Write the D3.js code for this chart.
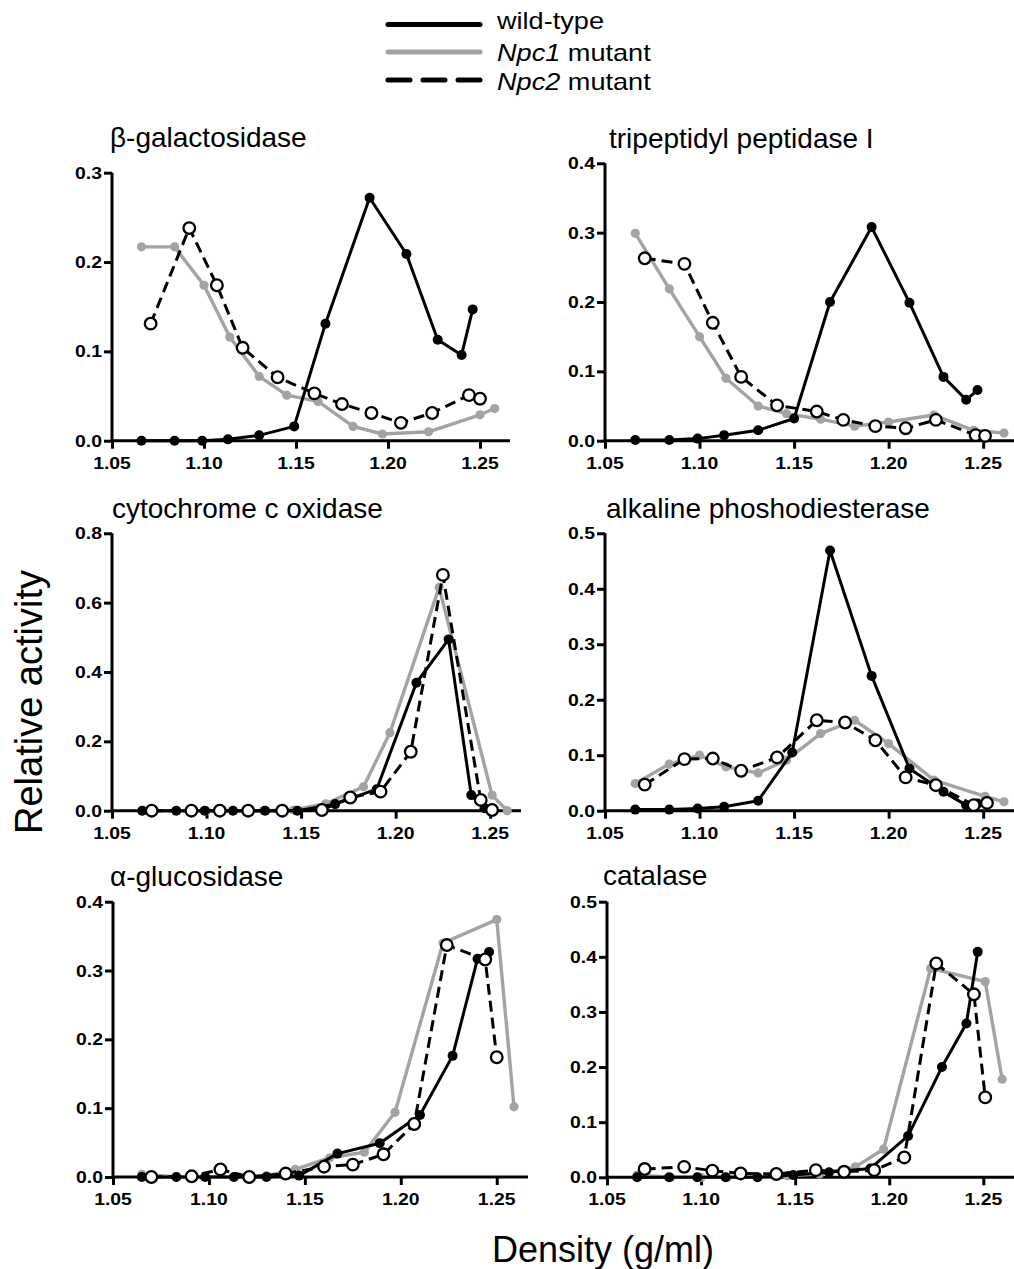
<!DOCTYPE html>
<html><head><meta charset="utf-8">
<script src="https://cdn.jsdelivr.net/npm/d3@7"></script>
<style>
html,body{margin:0;padding:0;background:#fff;}
svg{display:block;font-family:"Liberation Sans",Arial,sans-serif;}
</style></head>
<body>
<svg id="chart" width="1014" height="1269"></svg>
<script>
// ---------------- DATA ----------------
const seriesNames = ["wild-type", "Npc1 mutant", "Npc2 mutant"];
const densityTicks = [1.05, 1.10, 1.15, 1.20, 1.25];
const panelTitles = ["β-galactosidase", "tripeptidyl peptidase I", "cytochrome c oxidase",
                     "alkaline phoshodiesterase", "α-glucosidase", "catalase"];
const yMaxima = [0.3, 0.4, 0.8, 0.5, 0.4, 0.5];
const yTickSteps = [0.1, 0.1, 0.2, 0.1, 0.1, 0.1];

// β-galactosidase
const bgalWT   = [[1.066,0],[1.084,0],[1.099,0],[1.113,0.0015],[1.130,0.006],[1.149,0.016],[1.166,0.131],[1.190,0.272],[1.210,0.209],[1.227,0.113],[1.240,0.096],[1.246,0.147]];
const bgalNpc1 = [[1.066,0.217],[1.084,0.217],[1.100,0.174],[1.114,0.116],[1.130,0.072],[1.145,0.051],[1.162,0.044],[1.181,0.016],[1.197,0.0075],[1.222,0.010],[1.250,0.029],[1.258,0.036]];
const bgalNpc2 = [[1.071,0.131],[1.092,0.238],[1.107,0.174],[1.121,0.104],[1.140,0.071],[1.160,0.053],[1.175,0.041],[1.191,0.031],[1.207,0.020],[1.224,0.031],[1.244,0.051],[1.250,0.047]];
// tripeptidyl peptidase I
const tppWT   = [[1.066,0.001],[1.084,0.001],[1.099,0.003],[1.113,0.008],[1.131,0.015],[1.150,0.032],[1.169,0.200],[1.191,0.308],[1.211,0.199],[1.229,0.092],[1.241,0.059],[1.247,0.073]];
const tppNpc1 = [[1.066,0.299],[1.084,0.219],[1.100,0.150],[1.114,0.090],[1.131,0.050],[1.146,0.039],[1.164,0.031],[1.182,0.021],[1.200,0.027],[1.224,0.037],[1.245,0.015],[1.261,0.011]];
const tppNpc2 = [[1.071,0.263],[1.092,0.255],[1.107,0.170],[1.122,0.092],[1.141,0.051],[1.162,0.042],[1.176,0.030],[1.193,0.021],[1.209,0.018],[1.225,0.030],[1.246,0.008],[1.251,0.007]];
// cytochrome c oxidase
const coxWT   = [[1.066,0],[1.084,0],[1.099,0],[1.114,0],[1.131,0],[1.148,0],[1.168,0.019],[1.190,0.062],[1.211,0.369],[1.228,0.494],[1.240,0.045],[1.247,0.007]];
const coxNpc1 = [[1.066,0],[1.084,0],[1.100,0],[1.114,0],[1.130,0],[1.146,0.002],[1.163,0.020],[1.183,0.069],[1.197,0.225],[1.223,0.644],[1.251,0.045],[1.259,0]];
const coxNpc2 = [[1.071,0],[1.092,0],[1.107,0],[1.122,0],[1.140,0],[1.161,0.002],[1.176,0.038],[1.192,0.055],[1.208,0.170],[1.225,0.680],[1.245,0.031],[1.251,0.002]];
// alkaline phosphodiesterase
const apdWT   = [[1.066,0.002],[1.084,0.002],[1.099,0.004],[1.113,0.007],[1.131,0.018],[1.149,0.105],[1.169,0.469],[1.191,0.243],[1.211,0.076],[1.229,0.034],[1.241,0.010],[1.247,0.013]];
const apdNpc1 = [[1.066,0.049],[1.084,0.084],[1.100,0.100],[1.114,0.079],[1.131,0.068],[1.146,0.091],[1.164,0.139],[1.182,0.163],[1.200,0.121],[1.224,0.055],[1.251,0.026],[1.261,0.016]];
const apdNpc2 = [[1.071,0.047],[1.092,0.093],[1.107,0.094],[1.122,0.072],[1.141,0.096],[1.162,0.163],[1.177,0.159],[1.193,0.127],[1.209,0.060],[1.225,0.046],[1.245,0.010],[1.252,0.014]];
// α-glucosidase
const agluWT   = [[1.065,0],[1.083,0],[1.098,0],[1.113,0],[1.130,0],[1.147,0.002],[1.167,0.034],[1.189,0.049],[1.210,0.090],[1.227,0.176],[1.240,0.317],[1.246,0.327]];
const agluNpc1 = [[1.065,0.004],[1.083,0],[1.098,0],[1.113,0],[1.130,0.002],[1.145,0.011],[1.163,0.028],[1.181,0.036],[1.197,0.094],[1.222,0.340],[1.250,0.374],[1.259,0.102]];
const agluNpc2 = [[1.070,0],[1.091,0.001],[1.106,0.011],[1.121,0],[1.140,0.005],[1.160,0.015],[1.175,0.018],[1.191,0.033],[1.207,0.077],[1.224,0.337],[1.244,0.316],[1.250,0.174]];
// catalase
const catWT   = [[1.066,0],[1.083,0],[1.098,0],[1.113,0],[1.130,0],[1.149,0.004],[1.168,0.009],[1.190,0.016],[1.210,0.075],[1.228,0.200],[1.241,0.279],[1.247,0.409]];
const catNpc1 = [[1.066,0.004],[1.084,0],[1.100,0],[1.114,0],[1.130,0],[1.146,0.003],[1.163,0.006],[1.182,0.019],[1.197,0.051],[1.222,0.379],[1.251,0.355],[1.260,0.178]];
const catNpc2 = [[1.070,0.015],[1.091,0.019],[1.106,0.012],[1.121,0.007],[1.140,0.006],[1.161,0.013],[1.176,0.010],[1.192,0.013],[1.208,0.036],[1.225,0.388],[1.245,0.332],[1.251,0.145]];

const panelData = [
  [bgalWT, bgalNpc1, bgalNpc2],
  [tppWT, tppNpc1, tppNpc2],
  [coxWT, coxNpc1, coxNpc2],
  [apdWT, apdNpc1, apdNpc2],
  [agluWT, agluNpc1, agluNpc2],
  [catWT, catNpc1, catNpc2]
];

// ---------------- LAYOUT ----------------
const xDomainEnd = 1.2663;
// [axisX, axisRightEnd, yZeroPx, yTopPx, titleX, titleBaseline]
const panelBoxes = [
  [112, 510, 440.7, 172.7, 110, 147],
  [605, 1014, 440.7, 163.3, 609, 148],
  [112, 521, 810.7, 533.3, 112, 518],
  [605, 1014, 810.7, 533.3, 606, 518],
  [113, 528, 1177, 901.7, 110, 886],
  [607, 1014, 1177.3, 901.7, 603, 885]
];
const GRAY = "#a3a3a7";
const FONT = "'Liberation Sans', Arial, sans-serif";

const svg = d3.select("#chart");

// Legend
const legend = svg.append("g");
const legendStyles = [
  {stroke:"#000", dash:null},
  {stroke:GRAY, dash:null},
  {stroke:"#000", dash:"22,13"}
];
const legendLineY = [24.5, 52, 80];
const legendTextY = [29, 61, 90];
seriesNames.forEach((name, i) => {
  legend.append("line")
    .attr("x1", 388).attr("x2", 480)
    .attr("y1", legendLineY[i]).attr("y2", legendLineY[i])
    .attr("stroke", legendStyles[i].stroke)
    .attr("stroke-width", 5)
    .attr("stroke-linecap", "round")
    .attr("stroke-dasharray", legendStyles[i].dash);
  const t = legend.append("text")
    .attr("transform", `translate(497,${legendTextY[i]}) scale(1.13,1)`)
    .attr("font-size", 24)
    .attr("fill", "#000");
  if (i === 0) {
    t.text(name);
  } else {
    const parts = name.split(" ");
    t.append("tspan").attr("font-style", "italic").text(parts[0]);
    t.append("tspan").text(" " + parts[1]);
  }
});

// Panels
panelData.forEach((series, p) => {
  const [ax, aRight, y0, yTop, tx, ty] = panelBoxes[p];
  const x = d3.scaleLinear().domain([1.05, xDomainEnd]).range([ax, aRight]);
  const y = d3.scaleLinear().domain([0, yMaxima[p]]).range([y0, yTop]);
  const g = svg.append("g");

  // title
  g.append("text").attr("x", tx).attr("y", ty)
    .attr("font-size", 28).attr("fill", "#000").text(panelTitles[p]);

  // y axis
  const nT = Math.round(yMaxima[p] / yTickSteps[p]);
  const yTicks = d3.range(nT + 1).map(k => +(k * yTickSteps[p]).toFixed(2));
  const yAxis = d3.axisLeft(y).tickValues(yTicks).tickSize(8).tickPadding(4)
    .tickFormat(d3.format(".1f"));
  const ya = g.append("g").attr("transform", `translate(${ax},0)`).call(yAxis)
    .attr("font-family", FONT).attr("font-size", null);
  ya.select(".domain").attr("stroke", "#000").attr("stroke-width", 3)
    .attr("d", `M0,${y0}V${yTop}`);
  ya.selectAll(".tick line").attr("stroke", "#000").attr("stroke-width", 3);
  ya.selectAll(".tick text").remove();
  yTicks.forEach(v => {
    ya.append("text")
      .attr("transform", `translate(-10,${y(v) + 6}) scale(1.14,1)`)
      .attr("text-anchor", "end").attr("font-size", 17).attr("font-weight", "bold")
      .attr("font-family", FONT)
      .attr("fill", "#000").text(d3.format(".1f")(v));
  });

  // x axis
  const xAxis = d3.axisBottom(x).tickValues(densityTicks).tickSize(8).tickFormat(d3.format(".2f"));
  const xa = g.append("g").attr("transform", `translate(0,${y0})`).call(xAxis)
    .attr("font-family", FONT).attr("font-size", null);
  xa.select(".domain").attr("stroke", "#000").attr("stroke-width", 3)
    .attr("d", `M${ax},0H${aRight}`);
  xa.selectAll(".tick line").attr("stroke", "#000").attr("stroke-width", 3);
  xa.selectAll(".tick text").remove();
  densityTicks.forEach(v => {
    xa.append("text")
      .attr("transform", `translate(${x(v)},28) scale(1.14,1)`)
      .attr("text-anchor", "middle").attr("font-size", 17).attr("font-weight", "bold")
      .attr("font-family", FONT)
      .attr("fill", "#000").text(d3.format(".2f")(v));
  });

  const line = d3.line().x(d => x(d[0])).y(d => y(d[1]));

  // Npc1 (gray) first
  g.append("path").datum(series[1]).attr("d", line)
    .attr("fill", "none").attr("stroke", GRAY).attr("stroke-width", 3.4)
    .attr("stroke-linejoin", "round");
  g.selectAll(null).data(series[1]).enter().append("circle")
    .attr("cx", d => x(d[0])).attr("cy", d => y(d[1])).attr("r", 4.6)
    .attr("fill", GRAY);

  // wild-type
  g.append("path").datum(series[0]).attr("d", line)
    .attr("fill", "none").attr("stroke", "#000").attr("stroke-width", 3)
    .attr("stroke-linejoin", "round");
  g.selectAll(null).data(series[0]).enter().append("circle")
    .attr("cx", d => x(d[0])).attr("cy", d => y(d[1])).attr("r", 5)
    .attr("fill", "#000");

  // Npc2 dashed with open circles
  g.append("path").datum(series[2]).attr("d", line)
    .attr("fill", "none").attr("stroke", "#000").attr("stroke-width", 3)
    .attr("stroke-dasharray", "11,6");
  g.selectAll(null).data(series[2]).enter().append("circle")
    .attr("cx", d => x(d[0])).attr("cy", d => y(d[1])).attr("r", 5.8)
    .attr("fill", "#fff").attr("stroke", "#000").attr("stroke-width", 2.3);
});

// Axis titles
svg.append("text")
  .attr("transform", "translate(42,702) rotate(-90)")
  .attr("text-anchor", "middle").attr("font-size", 38).attr("fill", "#000")
  .text("Relative activity");
svg.append("text")
  .attr("x", 603).attr("y", 1262)
  .attr("text-anchor", "middle").attr("font-size", 36).attr("fill", "#000")
  .text("Density (g/ml)");
</script>
</body></html>
